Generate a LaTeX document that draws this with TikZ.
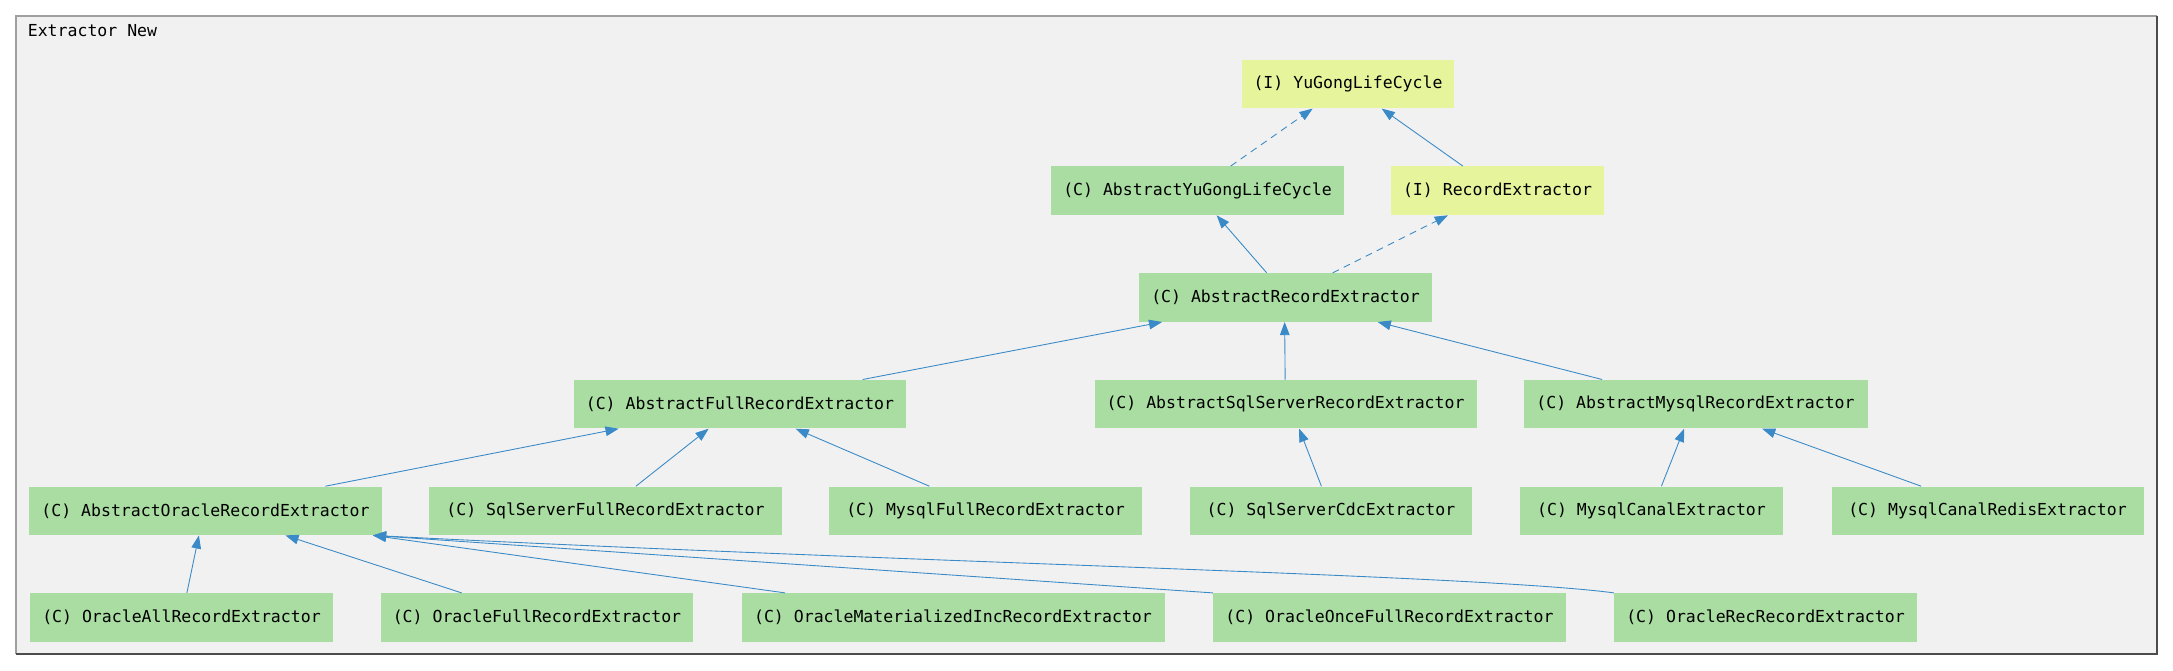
\documentclass[tikz,border=0pt]{standalone}
\usepackage{fontspec}
\setmonofont{DejaVu Sans Mono}
\usepackage{xcolor}
\usepackage{tikz}
\usetikzlibrary{shapes.geometric, arrows.meta, calc}
\definecolor{clsgreen}{HTML}{A9DDA1}
\definecolor{ifyellow}{HTML}{E6F59C}
\definecolor{edgeblue}{HTML}{3A8AC8}
\definecolor{framebg}{HTML}{F1F1F1}
\tikzstyle{cls} = [rectangle, minimum height=0.97cm, inner xsep=4pt, text centered, fill=clsgreen, font=\ttfamily\fontsize{9.4}{11}\selectfont]
\tikzstyle{iface} = [cls, fill=ifyellow]
\tikzstyle{arrow} = [-{Triangle[length=7.5pt,width=5.5pt]}, draw=edgeblue, line width=0.5pt]
\tikzstyle{impl} = [arrow, dash pattern=on 4pt off 3pt]

\begin{document}
\begin{tikzpicture}[node distance=2.134cm]
        \fill[white] (0,0) rectangle (43.46,-13.42);
        \fill[framebg] (0.32,-0.32) rectangle (43.14,-13.08);
        \draw[gray!75, line width=1pt] (0.32,-13.08) |- (43.14,-0.32);
        \draw[black!70, line width=1pt] (43.14,-0.32) |- (0.32,-13.08);
        \node[anchor=west, inner sep=0pt, font=\ttfamily\fontsize{9.4}{11}\selectfont](title) at (0.55,-0.62){Extractor New};

        \node[iface, minimum width=4.24cm](ylc) at (26.96,-1.68){(I) YuGongLifeCycle};
        \node[cls, minimum width=5.86cm, below of=ylc, xshift=-3.01cm](aylc){(C) AbstractYuGongLifeCycle};
        \node[iface, minimum width=4.25cm, below of=ylc, xshift=2.99cm](rex){(I) RecordExtractor};
        \node[cls, minimum width=5.86cm, below of=aylc, xshift=1.76cm](are){(C) AbstractRecordExtractor};
        \node[cls, minimum width=6.64cm, below of=are, xshift=-10.91cm](afre){(C) AbstractFullRecordExtractor};
        \node[cls, minimum width=7.64cm, below of=are](assre){(C) AbstractSqlServerRecordExtractor};
        \node[cls, minimum width=6.88cm, below of=are, xshift=8.20cm](amre){(C) AbstractMysqlRecordExtractor};
        \node[cls, minimum width=7.05cm, below of=afre, xshift=-10.69cm](aore){(C) AbstractOracleRecordExtractor};
        \node[cls, minimum width=7.05cm, below of=afre, xshift=-2.69cm](ssfre){(C) SqlServerFullRecordExtractor};
        \node[cls, minimum width=6.25cm, below of=afre, xshift=4.91cm](mfre){(C) MysqlFullRecordExtractor};
        \node[cls, minimum width=5.65cm, below of=assre, xshift=0.91cm](ssce){(C) SqlServerCdcExtractor};
        \node[cls, minimum width=5.27cm, below of=amre, xshift=-0.88cm](mce){(C) MysqlCanalExtractor};
        \node[cls, minimum width=6.24cm, below of=amre, xshift=5.84cm](mcre){(C) MysqlCanalRedisExtractor};
        \node[cls, minimum width=6.05cm, below of=aore, xshift=-0.48cm](oare){(C) OracleAllRecordExtractor};
        \node[cls, minimum width=6.24cm, below of=aore, xshift=6.63cm](ofre){(C) OracleFullRecordExtractor};
        \node[cls, minimum width=8.46cm, below of=aore, xshift=14.95cm](omire){(C) OracleMaterializedIncRecordExtractor};
        \node[cls, minimum width=7.05cm, below of=aore, xshift=23.68cm](oofre){(C) OracleOnceFullRecordExtractor};
        \node[cls, minimum width=6.05cm, below of=aore, xshift=31.20cm](orre){(C) OracleRecRecordExtractor};

        \draw [impl] ($(aylc.north west)+(3.60,0)$) -- ($(ylc.south west)+(1.42,0)$);
        \draw [arrow] ($(rex.north west)+(1.44,0)$) -- ($(ylc.south west)+(2.80,0)$);
        \draw [arrow] ($(are.north west)+(2.56,0)$) -- ($(aylc.south west)+(3.32,0)$);
        \draw [impl] ($(are.north west)+(3.88,0)$) -- ($(rex.south west)+(1.14,0)$);
        \draw [arrow] ($(afre.north west)+(5.78,0)$) -- ($(are.south west)+(0.47,0)$);
        \draw [arrow] ($(assre.north west)+(3.82,0)$) -- ($(are.south west)+(2.92,0)$);
        \draw [arrow] ($(amre.north west)+(1.58,0)$) -- ($(are.south west)+(4.78,0)$);
        \draw [arrow] ($(aore.north west)+(5.93,0)$) -- ($(afre.south west)+(0.90,0)$);
        \draw [arrow] ($(ssfre.north west)+(4.14,0)$) -- ($(afre.south west)+(2.70,0)$);
        \draw [arrow] ($(mfre.north west)+(2.01,0)$) -- ($(afre.south west)+(4.44,0)$);
        \draw [arrow] ($(ssce.north west)+(2.64,0)$) -- ($(assre.south west)+(4.10,0)$);
        \draw [arrow] ($(mce.north west)+(2.84,0)$) -- ($(amre.south west)+(3.22,0)$);
        \draw [arrow] ($(mcre.north west)+(1.80,0)$) -- ($(amre.south west)+(4.78,0)$);
        \draw [arrow] ($(oare.north west)+(3.14,0)$) -- ($(aore.south west)+(3.40,0)$);
        \draw [arrow] ($(ofre.north west)+(1.62,0)$) -- ($(aore.south west)+(5.13,0)$);
        \draw [arrow] ($(omire.north west)+(0.88,0)$) -- ($(aore.south west)+(6.88,0)$);
        \draw [arrow] (oofre.north west) -- ($(aore.south west)+(6.88,0)$);
        \draw [arrow] (orre.north west) .. controls +(-2.66,0.36) and +(10.54,-0.54) .. ($(aore.south west)+(6.88,0)$);
    \end{tikzpicture}
\end{document}
